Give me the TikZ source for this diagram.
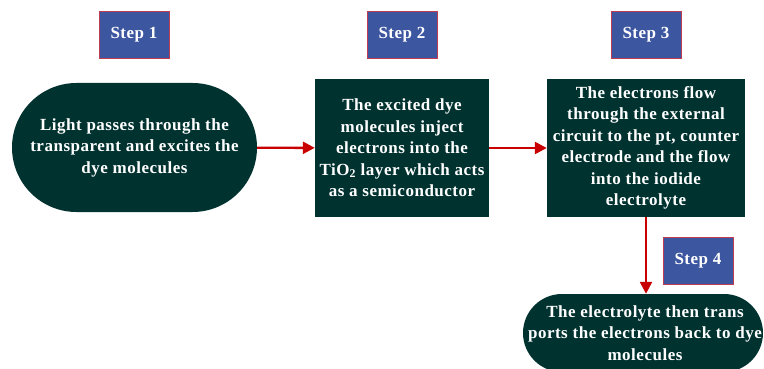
\documentclass[tikz,border=0pt]{standalone}
\usepackage{fontspec}
\setmainfont{Liberation Serif}
\usetikzlibrary{shapes.misc,arrows.meta}

\definecolor{stepblue}{RGB}{60,86,160}
\definecolor{stepedge}{RGB}{192,60,80}
\definecolor{darkbox}{RGB}{0,50,48}
\definecolor{flowred}{RGB}{200,0,0}

\begin{document}
\begin{tikzpicture}[x=1pt,y=-1pt,
    every node/.style={font=\bfseries\fontsize{17}{21.5}\selectfont\addfontfeature{LetterSpace=3}, text=white, align=center, inner sep=0pt},
    steplabel/.style={draw=stepedge, line width=0.8pt, fill=stepblue, minimum width=70pt, minimum height=47pt},
    roundbox/.style={rounded rectangle, fill=darkbox},
    squarebox/.style={rectangle, fill=darkbox},
    flowarrow/.style={draw=flowred, line width=2.4pt, -{Triangle[length=12pt,width=12pt]}}]
\useasboundingbox (0,0) rectangle (764,369);
\clip (0,0) rectangle (764,369);

\node[steplabel] (step1) at (134,34.5) {Step 1};
\node[steplabel] (step2) at (402,34.5) {Step 2};
\node[steplabel] (step3) at (646,34.5) {Step 3};
\node[steplabel] (step4) at (698,260.5) {Step 4};

\node[roundbox, minimum width=245pt, minimum height=129pt] (light) at (134.5,147.5)
    {Light passes through the\\transparent and excites the\\dye molecules};
\node[squarebox, minimum width=174pt, minimum height=138pt] (inject) at (402,148)
    {The excited dye\\molecules inject\\electrons into the\\TiO\textsubscript{2} layer which acts\\as a semiconductor};
\node[squarebox, minimum width=198pt, minimum height=138pt] (flow) at (646,148)
    {The electrons flow\\through the external\\circuit to the pt, counter\\electrode and the flow\\into the iodide\\electrolyte};
\node[roundbox, minimum width=240pt, minimum height=78pt] (back) at (643,333) {};
\node (backtext) at (645,333)
    {The electrolyte then trans\\ports the electrons back to dye\\molecules};

% connectors
\draw[flowarrow] (light) -- (inject);
\draw[flowarrow] (inject) -- (flow);
\draw[flowarrow] (flow.south) -- (flow.south |- back.north);
\end{tikzpicture}
\end{document}
